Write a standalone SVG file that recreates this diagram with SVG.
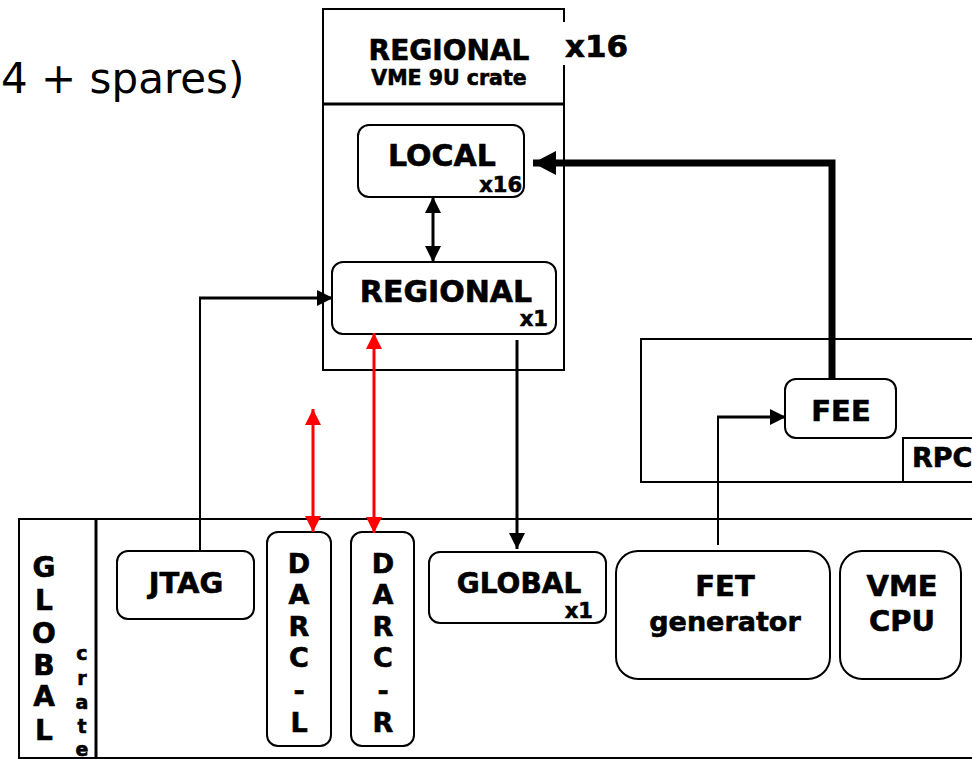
<svg xmlns="http://www.w3.org/2000/svg" width="972" height="759" viewBox="0 0 972 759">
<style>
.box{fill:#fff;stroke:#000;stroke-width:2}
.frame{fill:none;stroke:#000;stroke-width:2}
.b{font-family:"DejaVu Sans","Verdana",sans-serif;font-weight:bold;fill:#000;stroke:#000;stroke-width:0.6}
.n{font-family:"DejaVu Sans","Verdana",sans-serif;fill:#000}
.c{text-anchor:middle}
.e{text-anchor:end}
.blk{stroke:#000;fill:none}
.red{stroke:#f00;fill:none;stroke-width:3}
</style>
<defs>
<marker id="ab" markerUnits="userSpaceOnUse" markerWidth="17" markerHeight="16" refX="16" refY="8" orient="auto-start-reverse"><path d="M0,0 L16,8 L0,16 z" fill="#000"/></marker>
<marker id="ar" markerUnits="userSpaceOnUse" markerWidth="17" markerHeight="16" refX="16" refY="8" orient="auto-start-reverse"><path d="M0,0 L16,8 L0,16 z" fill="#f00"/></marker>
<marker id="abig" markerUnits="userSpaceOnUse" markerWidth="24" markerHeight="24" refX="23" refY="12" orient="auto"><path d="M0,0 L23,12 L0,24 z" fill="#000"/></marker>
</defs>
<rect width="972" height="759" fill="#fff"/>

<text class="n" x="1" y="93" font-size="42">4 + spares)</text>

<g id="regional-crate">
<rect class="frame" x="323" y="9" width="241" height="361"/>
<line x1="323" y1="104" x2="564" y2="104" stroke="#000" stroke-width="3"/>
<text class="b c" x="449" y="60" font-size="28">REGIONAL</text>
<text class="b c" x="449" y="85" font-size="20.5">VME 9U crate</text>
<rect x="563" y="22" width="72" height="43" fill="#fff"/>
<text class="b" x="565" y="57" font-size="31">x16</text>
</g>

<g id="local">
<rect class="box" x="358" y="125" width="166" height="72" rx="11"/>
<text class="b c" x="442" y="166" font-size="30">LOCAL</text>
<text class="b e" x="522" y="192" font-size="21">x16</text>
</g>

<g id="regional">
<rect class="box" x="332" y="262" width="224" height="72" rx="11"/>
<text class="b c" x="446" y="302" font-size="30">REGIONAL</text>
<text class="b e" x="548" y="326" font-size="21">x1</text>
</g>

<g id="rpc">
<rect class="frame" x="641" y="339" width="345" height="143"/>
<rect class="frame" x="903" y="438" width="80" height="44"/>
<text class="b" x="912" y="467" font-size="27">RPC</text>
</g>

<g id="fee">
<rect class="box" x="785" y="379" width="111" height="59" rx="11"/>
<text class="b c" x="841" y="421" font-size="29">FEE</text>
</g>

<g id="global-crate">
<rect class="frame" x="19" y="519" width="970" height="239"/>
<line x1="96" y1="519" x2="96" y2="758" stroke="#000" stroke-width="3"/>
<g class="b c" font-size="28">
<text x="44" y="577">G</text>
<text x="44" y="610">L</text>
<text x="44" y="643">O</text>
<text x="44" y="675">B</text>
<text x="44" y="706">A</text>
<text x="44" y="740">L</text>
</g>
<g class="b c" font-size="19">
<text x="82" y="660">c</text>
<text x="82" y="685">r</text>
<text x="82" y="709">a</text>
<text x="82" y="733">t</text>
<text x="82" y="756">e</text>
</g>
</g>

<g id="jtag">
<rect class="box" x="117" y="551" width="137" height="68" rx="11"/>
<text class="b c" x="186" y="593" font-size="29">JTAG</text>
</g>

<g id="darc-l">
<rect class="box" x="267" y="532" width="64" height="214" rx="11"/>
<g class="b c" font-size="27">
<text x="299" y="573">D</text>
<text x="299" y="604">A</text>
<text x="299" y="636">R</text>
<text x="299" y="667">C</text>
<text x="299" y="700">-</text>
<text x="299" y="732">L</text>
</g>
</g>

<g id="darc-r">
<rect class="box" x="351" y="532" width="63" height="214" rx="11"/>
<g class="b c" font-size="27">
<text x="383" y="573">D</text>
<text x="383" y="604">A</text>
<text x="383" y="636">R</text>
<text x="383" y="667">C</text>
<text x="383" y="700">-</text>
<text x="383" y="732">R</text>
</g>
</g>

<g id="global">
<rect class="box" x="429" y="552" width="177" height="71" rx="11"/>
<text class="b c" x="519" y="593" font-size="28">GLOBAL</text>
<text class="b e" x="593" y="618" font-size="21">x1</text>
</g>

<g id="fet">
<rect class="box" x="616" y="551" width="214" height="128" rx="22"/>
<text class="b c" x="725" y="596" font-size="29">FET</text>
<text class="b c" x="725" y="631" font-size="27">generator</text>
</g>

<g id="vme-cpu">
<rect class="box" x="840" y="551" width="121" height="128" rx="22"/>
<text class="b c" x="902" y="596" font-size="29">VME</text>
<text class="b c" x="902" y="631" font-size="29">CPU</text>
</g>

<g id="connectors">
<path class="blk" stroke-width="7" d="M832,379 V163 H533" marker-end="url(#abig)"/>
<line class="blk" stroke-width="3" x1="433" y1="197" x2="433" y2="262" marker-start="url(#ab)" marker-end="url(#ab)"/>
<path class="blk" stroke-width="2" d="M200,551 V298"/>
<path class="blk" stroke-width="3" d="M199,298 H333" marker-end="url(#ab)"/>
<line class="red" x1="313" y1="409" x2="313" y2="532" marker-start="url(#ar)" marker-end="url(#ar)"/>
<line class="red" x1="374" y1="333" x2="374" y2="533" marker-start="url(#ar)" marker-end="url(#ar)"/>
<line class="blk" stroke-width="3" x1="517" y1="340" x2="517" y2="549" marker-end="url(#ab)"/>
<path class="blk" stroke-width="2" d="M718,545 V417"/>
<path class="blk" stroke-width="3" d="M717,417 H786" marker-end="url(#ab)"/>
</g>
</svg>
